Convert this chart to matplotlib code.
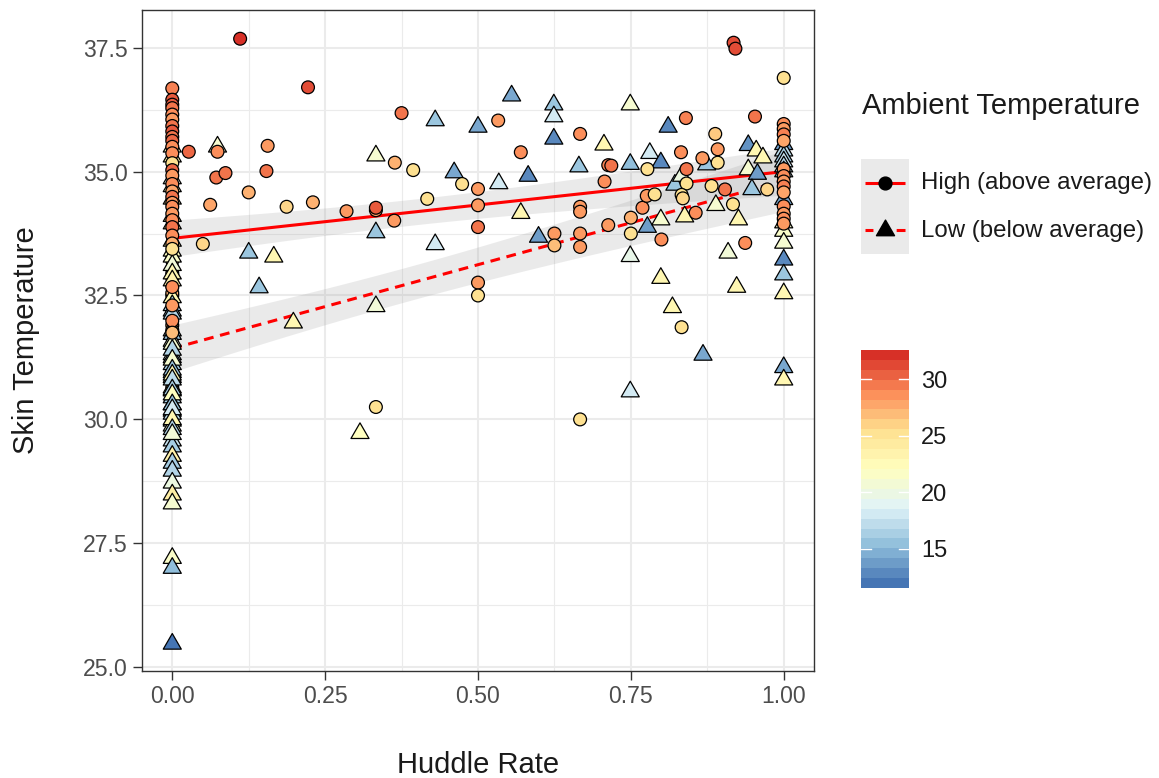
import numpy as np
import matplotlib
matplotlib.use("Agg")
import matplotlib.pyplot as plt
import matplotlib.transforms as mtransforms
from matplotlib.colors import LinearSegmentedColormap, Normalize
from matplotlib.path import Path
from matplotlib.patches import Rectangle
from matplotlib.cm import ScalarMappable

plt.rcParams['font.family'] = ['Liberation Sans', 'DejaVu Sans']

# ---- data: High ambient temperature (circles) ----
# huddle rate 0, visible part of the stack
high_col0_skin = [36.68, 36.45, 36.35, 36.28, 36.15, 36.05, 35.92, 35.81, 35.70, 35.62,
                  35.50, 35.37, 35.17, 35.03, 34.92, 34.75, 34.60, 34.49, 34.37, 34.29,
                  34.15, 34.02, 33.88, 33.71, 33.55, 33.44, 32.67, 32.30, 31.99, 31.75]
high_col0_amb = [29.5, 31.0, 31.0, 30.0, 29.0, 28.5, 30.0, 31.0, 30.0, 30.5,
                 29.0, 29.0, 25.5, 30.5, 28.5, 29.0, 28.0, 30.0, 28.5, 29.0,
                 28.5, 29.0, 30.0, 29.0, 27.5, 25.5, 29.0, 28.5, 29.0, 27.0]
# huddle rate 0, circles lying under the triangles
high_col0_under_skin = [33.20, 32.95, 32.50, 33.30, 33.05, 32.85, 32.70, 32.55, 32.40, 32.15,
                        32.05, 31.90, 31.80, 31.65, 31.50, 31.35, 31.15, 30.95, 30.75, 30.55,
                        30.45, 31.05, 30.85, 30.65]
high_col0_under_amb = [28.0, 27.0, 28.0, 28.5, 29.0, 28.0, 28.5, 27.5, 29.0, 28.0,
                       28.0, 28.5, 27.0, 28.5, 27.5, 29.0, 27.0, 26.0, 25.5, 26.5,
                       25.5, 27.0, 26.0, 25.5]

high_mid_x = [0.111, 0.222, 0.027, 0.074, 0.072, 0.087, 0.062, 0.050, 0.125, 0.156,
              0.154, 0.187, 0.230, 0.285, 0.333, 0.333, 0.364, 0.363, 0.375, 0.394,
              0.417, 0.474, 0.333, 0.5, 0.5, 0.5, 0.5, 0.5, 0.533, 0.570,
              0.625, 0.625, 0.667, 0.667, 0.667, 0.667, 0.667, 0.667, 0.707, 0.713,
              0.718, 0.713, 0.75, 0.75, 0.769, 0.776, 0.777, 0.789, 0.8, 0.832,
              0.840, 0.841, 0.841, 0.833, 0.835, 0.833, 0.856, 0.867, 0.888, 0.892,
              0.892, 0.882, 0.904, 0.917, 0.918, 0.921, 0.937, 0.953, 0.973]
high_mid_skin = [37.68, 36.70, 35.40, 35.40, 34.88, 34.97, 34.33, 33.54, 34.58, 35.52,
                 35.01, 34.29, 34.38, 34.20, 34.22, 34.27, 35.18, 34.01, 36.18, 35.03,
                 34.45, 34.75, 30.25, 34.65, 34.32, 33.88, 32.76, 32.50, 36.03, 35.39,
                 33.75, 33.51, 35.76, 34.29, 34.19, 33.75, 33.48, 30.00, 34.80, 35.13,
                 35.12, 33.92, 34.07, 33.75, 34.27, 34.51, 35.05, 34.54, 33.63, 35.39,
                 36.08, 35.05, 34.76, 34.53, 34.46, 31.86, 34.17, 35.27, 35.76, 35.45,
                 35.18, 34.71, 34.64, 34.34, 37.60, 37.48, 33.56, 36.11, 34.64]
high_mid_amb = [32.57, 31.5, 30.5, 29.0, 30.0, 30.0, 28.0, 26.0, 27.5, 28.5,
                30.0, 26.0, 27.5, 28.5, 28.5, 31.0, 27.5, 28.5, 30.0, 25.5,
                25.5, 25.5, 25.5, 28.5, 28.5, 30.0, 28.5, 25.5, 28.5, 29.0,
                28.5, 27.0, 29.0, 28.5, 28.5, 28.5, 28.5, 25.5, 29.0, 29.5,
                30.0, 28.5, 27.5, 25.5, 29.0, 28.5, 25.5, 25.5, 29.0, 29.0,
                29.5, 30.0, 25.5, 25.5, 26.0, 25.5, 29.0, 28.5, 26.5, 28.5,
                25.5, 25.5, 30.0, 25.5, 31.5, 31.5, 29.0, 30.0, 26.0]

high_col1_skin = [36.89, 35.96, 35.86, 35.75, 35.62, 35.05, 34.91, 34.80, 34.70, 34.58,
                  34.30, 34.15, 34.05, 33.95]
high_col1_amb = [25.5, 29.0, 28.5, 29.5, 28.0, 28.5, 29.0, 28.5, 29.5, 28.0,
                 29.0, 28.5, 29.0, 28.5]

# ---- data: Low ambient temperature (triangles) ----
low_col0_skin = [35.50, 35.30, 34.86, 34.70, 34.45, 34.10, 33.95, 33.60, 33.40, 33.28,
                 33.11, 32.94, 32.80, 32.46, 32.30, 32.19, 32.13, 31.79, 31.72, 31.58,
                 31.52, 31.31, 31.25, 31.11, 30.95, 30.85, 30.64, 30.58, 30.44, 30.30,
                 30.17, 30.11, 29.97, 29.87, 29.57, 29.45, 29.26, 29.12, 28.96, 28.72,
                 28.48, 28.30, 27.20, 27.00, 25.47, 31.40, 31.20, 31.00, 30.90, 30.80,
                 30.60, 30.50, 30.30, 30.20, 30.00, 29.80, 29.70]
low_col0_amb = [21.5, 23.0, 19.5, 22.0, 23.0, 23.5, 23.0, 23.5, 22.0, 21.5,
                20.5, 23.0, 23.5, 23.0, 16.0, 16.0, 16.5, 16.0, 15.5, 20.5,
                21.0, 18.5, 16.0, 16.0, 14.5, 15.5, 23.0, 24.0, 16.0, 23.5,
                16.0, 17.0, 21.0, 20.5, 17.5, 16.0, 23.5, 16.0, 16.5, 20.0,
                24.0, 21.0, 21.5, 15.0, 11.55, 16.5, 21.0, 15.5, 23.0, 17.0,
                16.0, 22.0, 15.5, 18.0, 23.0, 16.5, 20.5]

low_mid_x = [0.074, 0.125, 0.142, 0.166, 0.198, 0.307, 0.333, 0.333, 0.333, 0.430,
             0.430, 0.461, 0.5, 0.534, 0.555, 0.570, 0.582, 0.599, 0.624, 0.624,
             0.624, 0.665, 0.706, 0.749, 0.749, 0.749, 0.749, 0.777, 0.781, 0.799,
             0.799, 0.799, 0.811, 0.818, 0.822, 0.833, 0.838, 0.868, 0.874, 0.889,
             0.909, 0.923, 0.926, 0.942, 0.955, 0.966, 0.942, 0.957, 0.948]
low_mid_skin = [35.50, 33.36, 32.66, 33.28, 31.95, 29.72, 35.32, 33.77, 32.28, 36.03,
                33.53, 34.98, 35.90, 34.76, 36.53, 34.16, 34.91, 33.68, 36.35, 36.11,
                35.66, 35.10, 35.54, 36.35, 35.15, 33.29, 30.56, 33.88, 35.37, 35.18,
                34.03, 32.85, 35.90, 32.26, 34.73, 34.91, 34.09, 31.30, 35.14, 34.32,
                33.36, 32.67, 34.03, 35.53, 35.42, 35.28, 35.04, 34.95, 34.64]
low_mid_amb = [21.0, 15.5, 15.5, 23.0, 23.0, 22.0, 21.0, 15.5, 20.5, 15.5,
               18.0, 14.0, 14.0, 18.0, 14.0, 23.0, 12.5, 13.5, 15.5, 18.0,
               12.5, 15.5, 23.0, 21.0, 15.0, 19.5, 18.0, 13.5, 18.0, 12.5,
               21.0, 23.0, 12.5, 23.0, 15.5, 20.0, 23.0, 14.0, 15.5, 21.0,
               20.5, 23.0, 23.0, 13.0, 23.0, 23.0, 21.0, 13.5, 15.5]

low_col1_skin = [35.55, 35.42, 35.30, 35.20, 35.10, 35.00, 34.44, 33.97, 33.80, 33.56,
                 33.22, 32.92, 32.54, 31.05, 30.80]
low_col1_amb = [13.5, 17.0, 16.0, 17.5, 16.5, 17.0, 14.0, 21.0, 21.5, 21.0,
                12.5, 15.5, 23.0, 14.0, 23.0]

group_labels = ['High (above average)', 'Low (below average)']
x_ticks = [0.0, 0.25, 0.5, 0.75, 1.0]
y_ticks = [25.0, 27.5, 30.0, 32.5, 35.0, 37.5]
cbar_ticks = [15, 20, 25, 30]
palette = ['#4575B4', '#91BFDB', '#E0F3F8', '#FFFFBF', '#FEE090', '#FC8D59', '#D73027']


def build(col0_skin, mid_x, mid_skin, col1_skin, col0_amb, mid_amb, col1_amb):
    x = np.concatenate([np.zeros(len(col0_skin)), mid_x, np.ones(len(col1_skin))])
    y = np.concatenate([col0_skin, mid_skin, col1_skin])
    c = np.concatenate([col0_amb, mid_amb, col1_amb])
    return x, y, c


def lm_band(x, y, grid):
    slope, icpt = np.polyfit(x, y, 1)
    fit = icpt + slope * grid
    n = len(x)
    s = np.sqrt(np.sum((y - (icpt + slope * x)) ** 2) / (n - 2))
    sxx = np.sum((x - x.mean()) ** 2)
    se = s * np.sqrt(1.0 / n + (grid - x.mean()) ** 2 / sxx)
    return fit, fit - 1.98 * se, fit + 1.98 * se


hx, hy, hc = build(high_col0_skin, high_mid_x, high_mid_skin, high_col1_skin,
                   high_col0_amb, high_mid_amb, high_col1_amb)
ux = np.zeros(len(high_col0_under_skin))
uy = np.array(high_col0_under_skin)
uc = np.array(high_col0_under_amb)
lx, ly, lc = build(low_col0_skin, low_mid_x, low_mid_skin, low_col1_skin,
                   low_col0_amb, low_mid_amb, low_col1_amb)

cmap = LinearSegmentedColormap.from_list('rdylbu7', palette)
all_amb = np.concatenate([hc, uc, lc])
norm = Normalize(vmin=all_amb.min(), vmax=all_amb.max())

tri = Path([(0, 1), (-0.866, -0.5), (0.866, -0.5), (0, 1)],
           [Path.MOVETO, Path.LINETO, Path.LINETO, Path.CLOSEPOLY])

W, H = 1159, 778
fig = plt.figure(figsize=(W / 100, H / 100), dpi=100)
ax = fig.add_axes([141.7 / W, 1 - 670.7 / H, 672.6 / W, 660.7 / H])

grid = np.linspace(0, 1, 80)
fits = [(np.concatenate([hx, ux]), np.concatenate([hy, uy]), '-'),
        (lx, ly, (0, (3.2, 2.2)))]
for x, y, ls in fits:
    fit, lo, hi = lm_band(x, y, grid)
    ax.fill_between(grid, lo, hi, color='#999999', alpha=0.2, lw=0, zorder=2)
    ax.plot(grid, fit, color='red', lw=2.2, ls=ls, zorder=2.5)

ax.scatter(ux, uy, c=uc, cmap=cmap, norm=norm, marker='o', s=85,
           edgecolors='black', linewidths=0.9, zorder=2.8)
ax.scatter(lx, ly, c=lc, cmap=cmap, norm=norm, marker=tri, s=225,
           edgecolors='black', linewidths=0.9, zorder=3)
ax.scatter(hx, hy, c=hc, cmap=cmap, norm=norm, marker='o', s=85,
           edgecolors='black', linewidths=0.9, zorder=3.2)

ax.set_xlim(-0.05, 1.05)
ax.set_ylim(24.93, 38.26)
ax.set_xticks(x_ticks)
ax.set_xticklabels([f'{v:.2f}' for v in x_ticks])
ax.set_yticks(y_ticks)
ax.set_yticklabels([f'{v:.1f}' for v in y_ticks])
ax.set_xticks([0.125, 0.375, 0.625, 0.875], minor=True)
ax.set_yticks([26.25, 28.75, 31.25, 33.75, 36.25], minor=True)
ax.grid(which='major', color='#ebebeb', lw=1.5, zorder=0)
ax.grid(which='minor', color='#ebebeb', lw=0.8, zorder=0)
ax.set_axisbelow(True)
ax.tick_params(which='major', length=6.5, width=1.0, color='#333333',
               labelsize=16.6, labelcolor='#4d4d4d', pad=3.5)
ax.tick_params(which='minor', length=0)
for sp in ax.spines.values():
    sp.set_color('#333333')
    sp.set_linewidth(1.0)

fig.text(26 / W, 1 - 340 / H, 'Skin Temperature', rotation=90, ha='center',
         va='center', fontsize=21, color='#1a1a1a')
fig.text(478 / W, 1 - 773 / H, 'Huddle Rate', ha='center', va='baseline',
         fontsize=21, color='#1a1a1a')

# ---- legend: shape / line keys ----
fig.text(862 / W, 1 - 114 / H, 'Ambient Temperature', ha='left', va='baseline',
         fontsize=21, color='#1a1a1a')
lax = fig.add_axes([861 / W, 1 - 254 / H, 48 / W, 95 / H])
lax.set_xlim(0, 1)
lax.set_ylim(0, 2)
lax.axis('off')
lax.add_patch(Rectangle((0, 0), 1, 2, facecolor='#999999', alpha=0.2, lw=0))
lax.plot([0.08, 0.92], [1.5, 1.5], color='red', lw=2.2, solid_capstyle='butt')
lax.plot([0.08, 0.92], [0.5, 0.5], color='red', lw=2.2, ls=(0.6, (3.2, 2.2)))
lax.scatter([0.5], [1.5], marker='o', s=85, c='black', zorder=3)
lax.scatter([0.5], [0.5], marker=tri, s=225, c='black', zorder=3)
for label, yp in zip(group_labels, [183, 230.5]):
    fig.text(921 / W, 1 - yp / H, label, ha='left', va='center',
             fontsize=17.3, color='#1a1a1a')

# ---- legend: colour bar ----
cax = fig.add_axes([861 / W, 1 - 588 / H, 48 / W, 238 / H])
bar = ScalarMappable(norm=norm, cmap=cmap.resampled(24))
cb = fig.colorbar(bar, cax=cax, ticks=cbar_ticks)
cb.outline.set_visible(False)
cax.tick_params(length=0, labelsize=17, labelcolor='#1a1a1a', pad=8.5)
trans = mtransforms.blended_transform_factory(cax.transAxes, cax.transData)
for t in cbar_ticks:
    cax.plot([0, 0.2], [t, t], color='white', lw=1.0, transform=trans)
    cax.plot([0.8, 1], [t, t], color='white', lw=1.0, transform=trans)

fig.savefig('out.png', dpi=100)
